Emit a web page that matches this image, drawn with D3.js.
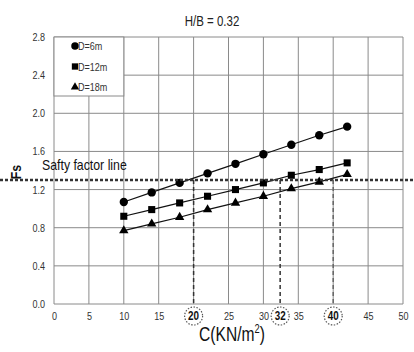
<!DOCTYPE html>
<html>
<head>
<meta charset="utf-8">
<script src="https://cdn.jsdelivr.net/npm/d3@7"></script>
<style>
  body { margin: 0; background: #fff; }
  text { font-family: "Liberation Sans", Arial, sans-serif; }
</style>
</head>
<body>
<div id="chart"></div>
<script>
// values
var cValues = [10, 14, 18, 22, 26, 30, 34, 38, 42];
var fsD6  = [1.07, 1.17, 1.27, 1.37, 1.47, 1.57, 1.67, 1.77, 1.86];
var fsD12 = [0.92, 0.99, 1.06, 1.13, 1.20, 1.27, 1.35, 1.41, 1.48];
var fsD18 = [0.77, 0.84, 0.91, 0.99, 1.06, 1.13, 1.21, 1.28, 1.36];
var seriesNames = ["D=6m", "D=12m", "D=18m"];
var xTicks = [0, 5, 10, 15, 25, 30, 35, 45, 50];
var yTicks = [0.0, 0.4, 0.8, 1.2, 1.6, 2.0, 2.4, 2.8];
var safetyFactor = 1.3;
var crossPos = [20, 32.4, 40];
var crossLabels = ["20", "32", "40"];

var width = 414, height = 352;
var margin = {top: 37, right: 11, bottom: 48, left: 54};

var svg = d3.select("#chart").append("svg")
  .attr("width", width)
  .attr("height", height);

var x = d3.scaleLinear().domain([0, 50]).range([margin.left, width - margin.right]);
var y = d3.scaleLinear().domain([0, 2.8]).range([height - margin.bottom, margin.top]);

// grid
svg.append("g")
  .selectAll("line.v")
  .data(d3.range(0, 51, 5))
  .enter().append("line")
    .attr("x1", function(d) { return x(d); })
    .attr("x2", function(d) { return x(d); })
    .attr("y1", y(0)).attr("y2", y(2.8))
    .attr("stroke", "#8a8a8a").attr("stroke-width", 1);

svg.append("g")
  .selectAll("line.h")
  .data(yTicks)
  .enter().append("line")
    .attr("x1", x(0)).attr("x2", x(50))
    .attr("y1", function(d) { return y(d); })
    .attr("y2", function(d) { return y(d); })
    .attr("stroke", "#8a8a8a").attr("stroke-width", 1);

// axes (text only)
var yAxis = d3.axisLeft(y).tickValues(yTicks).tickFormat(d3.format(".1f")).tickSize(0).tickPadding(9);
svg.append("g")
  .attr("transform", "translate(" + x(0) + ",0)")
  .call(yAxis)
  .call(function(g) { g.select(".domain").remove(); })
  .selectAll("text").attr("font-size", 11).attr("fill", "#333");

var xAxis = d3.axisBottom(x).tickValues(xTicks).tickSize(0).tickPadding(8);
svg.append("g")
  .attr("transform", "translate(0," + y(0) + ")")
  .call(xAxis)
  .call(function(g) { g.select(".domain").remove(); })
  .selectAll("text").attr("font-size", 11).attr("fill", "#333");

// legend box
var legend = svg.append("g");
legend.append("rect")
  .attr("x", x(0)).attr("y", y(2.8))
  .attr("width", x(10) - x(0)).attr("height", 59)
  .attr("fill", "#fff").attr("stroke", "#8a8a8a");

// series
var series = [fsD6, fsD12, fsD18];
var symbols = [d3.symbolCircle, d3.symbolSquare, d3.symbolTriangle];
var symSizes = [55, 50, 38];

var line = d3.line()
  .x(function(d) { return x(d[0]); })
  .y(function(d) { return y(d[1]); });

series.forEach(function(vals, i) {
  var pts = cValues.map(function(c, j) { return [c, vals[j]]; });
  svg.append("path")
    .datum(pts)
    .attr("d", line)
    .attr("fill", "none")
    .attr("stroke", "#111")
    .attr("stroke-width", 1.2);

  svg.append("g").selectAll("path")
    .data(pts)
    .enter().append("path")
      .attr("transform", function(d) { return "translate(" + x(d[0]) + "," + y(d[1]) + ")"; })
      .attr("d", d3.symbol().type(symbols[i]).size(symSizes[i]))
      .attr("fill", "#000");

  var ly = margin.top + 9 + i * 20.5;
  legend.append("path")
    .attr("transform", "translate(75," + ly + ")")
    .attr("d", d3.symbol().type(symbols[i]).size(symSizes[i] * 0.8))
    .attr("fill", "#000");
  legend.append("text")
    .attr("x", 78).attr("y", ly + 4)
    .attr("font-size", 11).attr("fill", "#333")
    .text(seriesNames[i]);
});

// safety factor line
svg.append("line")
  .attr("x1", 0).attr("x2", width)
  .attr("y1", y(safetyFactor)).attr("y2", y(safetyFactor))
  .attr("stroke", "#333").attr("stroke-width", 2.5)
  .attr("stroke-dasharray", "3,2");

svg.append("text")
  .attr("x", 42).attr("y", y(safetyFactor) - 10)
  .attr("font-size", 15).attr("fill", "#111")
  .text("Safty factor line");

// crossing markers
crossPos.forEach(function(c, i) {
  svg.append("line")
    .attr("x1", x(c)).attr("x2", x(c))
    .attr("y1", y(safetyFactor)).attr("y2", y(0))
    .attr("stroke", i == 2 ? "#666" : "#333").attr("stroke-width", 1.5)
    .attr("stroke-dasharray", "4,3");

  svg.append("circle")
    .attr("cx", x(c)).attr("cy", y(0) + 12)
    .attr("r", 9)
    .attr("fill", "#fff")
    .attr("stroke", "#555").attr("stroke-width", 1.2)
    .attr("stroke-dasharray", "1.5,1.5");

  svg.append("text")
    .attr("x", x(c)).attr("y", y(0) + 16)
    .attr("text-anchor", "middle")
    .attr("font-size", 12).attr("font-weight", "bold").attr("fill", "#111")
    .text(crossLabels[i]);
});

// titles
svg.append("text")
  .attr("x", 212).attr("y", 26)
  .attr("text-anchor", "middle")
  .attr("font-size", 14).attr("fill", "#222")
  .text("H/B = 0.32");

svg.append("text")
  .attr("transform", "translate(21," + 172 + ") rotate(-90)")
  .attr("text-anchor", "middle")
  .attr("font-size", 15).attr("font-weight", "bold").attr("fill", "#111")
  .text("Fs");

var xl = svg.append("text")
  .attr("x", 232).attr("y", 341)
  .attr("text-anchor", "middle")
  .attr("font-size", 20).attr("fill", "#111");
xl.append("tspan").text("C(KN/m");
xl.append("tspan").attr("font-size", 12).attr("dy", -8).text("2");
xl.append("tspan").attr("dy", 8).text(")");

// the reference uses a narrow face; squeeze every label to match
svg.selectAll("text").each(function() {
  if (this.querySelector("tspan")) {
    this.setAttribute("transform", "translate(" + (232 * 0.22) + ",0) scale(0.78,1)");
    return;
  }
  var w = this.getComputedTextLength();
  this.setAttribute("textLength", w * 0.82);
  this.setAttribute("lengthAdjust", "spacingAndGlyphs");
});
</script>
</body>
</html>
